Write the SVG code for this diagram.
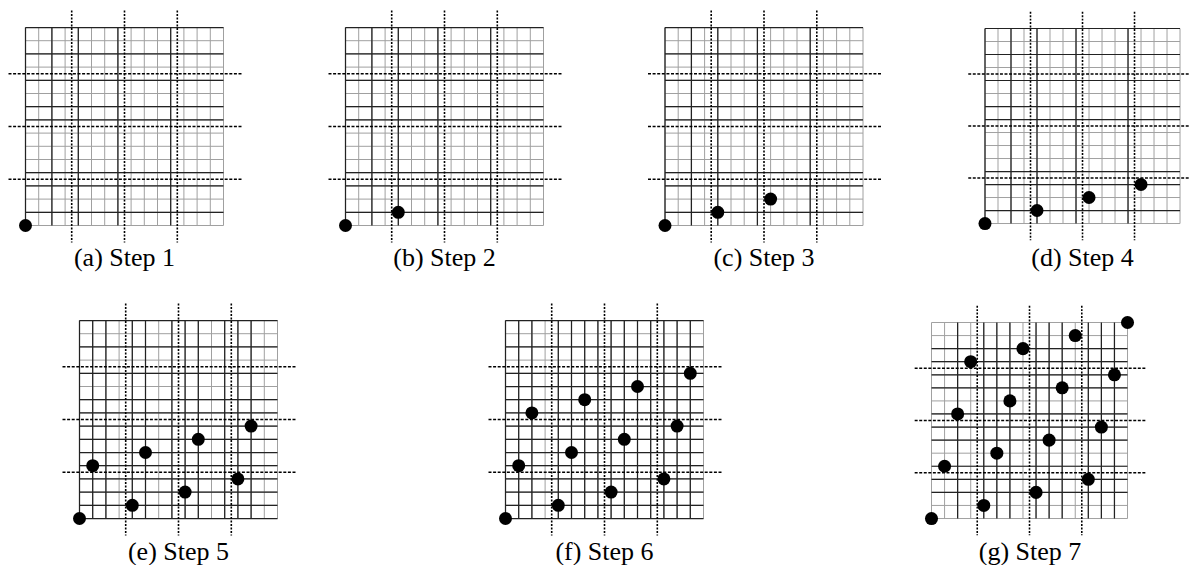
<svg xmlns="http://www.w3.org/2000/svg" xmlns:xlink="http://www.w3.org/1999/xlink" width="1190" height="565" viewBox="0 0 1190 565">
<style>
.lt{fill:none;stroke:#a0a0a0;stroke-width:1}
.dk{fill:none;stroke:#222;stroke-width:1.25}
.dv{fill:none;stroke:#000;stroke-width:1.6;stroke-dasharray:2 1.5}
.dh{fill:none;stroke:#000;stroke-width:1.5;stroke-dasharray:3 1.6}
.dot{fill:#000}
text{font-family:'Liberation Serif','Times New Roman','DejaVu Serif',serif;font-size:26px;fill:#000;text-anchor:middle}
</style>
<defs>
<path id="grid" class="lt" d="M0 0V198 M13.2 0V198 M26.4 0V198 M39.6 0V198 M52.8 0V198 M66 0V198 M79.2 0V198 M92.4 0V198 M105.6 0V198 M118.8 0V198 M132 0V198 M145.2 0V198 M158.4 0V198 M171.6 0V198 M184.8 0V198 M198 0V198 M0 0H198 M0 13.2H198 M0 26.4H198 M0 39.6H198 M0 52.8H198 M0 66H198 M0 79.2H198 M0 92.4H198 M0 105.6H198 M0 118.8H198 M0 132H198 M0 145.2H198 M0 158.4H198 M0 171.6H198 M0 184.8H198 M0 198H198"/>
<path id="dkbase" class="dk" d="M0 0V198 M26.4 0V198 M52.8 0V198 M92.4 0V198 M145.2 0V198 M0 184.8H198 M0 158.4H198 M0 145.2H198 M0 92.4H198 M0 79.2H198 M0 52.8H198 M0 26.4H198 M0 0H198"/>
<g id="dash">
<path class="dv" d="M46.2 -17V215 M99 -17V215 M151.8 -17V215"/>
<path class="dh" d="M-17 151.8H216 M-17 99H216 M-17 46.2H216"/>
</g>
</defs>
<rect width="1190" height="565" fill="#fff"/>

<g id="panel-a">
<g transform="translate(25.5,27.5)">
<use xlink:href="#grid" href="#grid"/>
<use xlink:href="#dkbase" href="#dkbase"/>
<use xlink:href="#dash" href="#dash"/>
<circle class="dot" cx="0" cy="198" r="6.5"/>
</g>
<text x="124.5" y="266" font-family="Liberation Serif, Times New Roman, serif" font-size="26">(a) Step 1</text>
</g>

<g id="panel-b">
<g transform="translate(345.5,27.5)">
<use xlink:href="#grid" href="#grid"/>
<use xlink:href="#dkbase" href="#dkbase"/>
<use xlink:href="#dash" href="#dash"/>
<circle class="dot" cx="0" cy="198" r="6.5"/>
<circle class="dot" cx="52.8" cy="184.8" r="6.5"/>
</g>
<text x="444.5" y="266" font-family="Liberation Serif, Times New Roman, serif" font-size="26">(b) Step 2</text>
</g>

<g id="panel-c">
<g transform="translate(665,27.5)">
<use xlink:href="#grid" href="#grid"/>
<use xlink:href="#dkbase" href="#dkbase"/>
<use xlink:href="#dash" href="#dash"/>
<circle class="dot" cx="0" cy="198" r="6.5"/>
<circle class="dot" cx="52.8" cy="184.8" r="6.5"/>
<circle class="dot" cx="105.6" cy="171.6" r="6.5"/>
</g>
<text x="764" y="266" font-family="Liberation Serif, Times New Roman, serif" font-size="26">(c) Step 3</text>
</g>

<g id="panel-d">
<g transform="translate(985,28.5) scale(0.985)">
<use xlink:href="#grid" href="#grid"/>
<use xlink:href="#dkbase" href="#dkbase"/>
<use xlink:href="#dash" href="#dash"/>
<circle class="dot" cx="0" cy="198" r="6.6"/>
<circle class="dot" cx="52.8" cy="184.8" r="6.6"/>
<circle class="dot" cx="105.6" cy="171.6" r="6.6"/>
<circle class="dot" cx="158.4" cy="158.4" r="6.6"/>
</g>
<text x="1082.5" y="266" font-family="Liberation Serif, Times New Roman, serif" font-size="26">(d) Step 4</text>
</g>

<g id="panel-e">
<g transform="translate(79.5,320.5)">
<use xlink:href="#grid" href="#grid"/>
<path class="dk" d="M0 0V198 M13.2 0V198 M26.4 0V198 M52.8 0V198 M66 0V198 M92.4 0V198 M105.6 0V198 M118.8 0V198 M145.2 0V198 M158.4 0V198 M171.6 0V198 M0 198H198 M0 184.8H198 M0 171.6H198 M0 158.4H198 M0 145.2H198 M0 132H198 M0 118.8H198 M0 105.6H198 M0 92.4H198 M0 79.2H198 M0 52.8H198 M0 26.4H198 M0 0H198"/>
<use xlink:href="#dash" href="#dash"/>
<circle class="dot" cx="0" cy="198" r="6.5"/>
<circle class="dot" cx="13.2" cy="145.2" r="6.5"/>
<circle class="dot" cx="52.8" cy="184.8" r="6.5"/>
<circle class="dot" cx="66" cy="132" r="6.5"/>
<circle class="dot" cx="105.6" cy="171.6" r="6.5"/>
<circle class="dot" cx="118.8" cy="118.8" r="6.5"/>
<circle class="dot" cx="158.4" cy="158.4" r="6.5"/>
<circle class="dot" cx="171.6" cy="105.6" r="6.5"/>
</g>
<text x="178.5" y="560" font-family="Liberation Serif, Times New Roman, serif" font-size="26">(e) Step 5</text>
</g>

<g id="panel-f">
<g transform="translate(505.5,320.5)">
<use xlink:href="#grid" href="#grid"/>
<path class="dk" d="M0 0V198 M13.2 0V198 M26.4 0V198 M52.8 0V198 M66 0V198 M79.2 0V198 M92.4 0V198 M105.6 0V198 M118.8 0V198 M132 0V198 M145.2 0V198 M158.4 0V198 M171.6 0V198 M184.8 0V198 M0 198H198 M0 184.8H198 M0 171.6H198 M0 158.4H198 M0 145.2H198 M0 132H198 M0 118.8H198 M0 105.6H198 M0 92.4H198 M0 79.2H198 M0 66H198 M0 52.8H198 M0 26.4H198 M0 0H198"/>
<use xlink:href="#dash" href="#dash"/>
<circle class="dot" cx="0" cy="198" r="6.5"/>
<circle class="dot" cx="13.2" cy="145.2" r="6.5"/>
<circle class="dot" cx="26.4" cy="92.4" r="6.5"/>
<circle class="dot" cx="52.8" cy="184.8" r="6.5"/>
<circle class="dot" cx="66" cy="132" r="6.5"/>
<circle class="dot" cx="79.2" cy="79.2" r="6.5"/>
<circle class="dot" cx="105.6" cy="171.6" r="6.5"/>
<circle class="dot" cx="118.8" cy="118.8" r="6.5"/>
<circle class="dot" cx="132" cy="66" r="6.5"/>
<circle class="dot" cx="158.4" cy="158.4" r="6.5"/>
<circle class="dot" cx="171.6" cy="105.6" r="6.5"/>
<circle class="dot" cx="184.8" cy="52.8" r="6.5"/>
</g>
<text x="604.5" y="560" font-family="Liberation Serif, Times New Roman, serif" font-size="26">(f) Step 6</text>
</g>

<g id="panel-g">
<g transform="translate(931.5,322.5) scale(0.99)">
<use xlink:href="#grid" href="#grid"/>
<path class="dk" d="M26.4 0V198 M52.8 0V198 M66 0V198 M79.2 0V198 M105.6 0V198 M118.8 0V198 M132 0V198 M158.4 0V198 M171.6 0V198 M184.8 0V198 M0 171.6H198 M0 158.4H198 M0 145.2H198 M0 118.8H198 M0 105.6H198 M0 92.4H198 M0 66H198 M0 52.8H198 M0 39.6H198 M0 26.4H198"/>
<use xlink:href="#dash" href="#dash"/>
<circle class="dot" cx="0" cy="198" r="6.6"/>
<circle class="dot" cx="13.2" cy="145.2" r="6.6"/>
<circle class="dot" cx="26.4" cy="92.4" r="6.6"/>
<circle class="dot" cx="39.6" cy="39.6" r="6.6"/>
<circle class="dot" cx="52.8" cy="184.8" r="6.6"/>
<circle class="dot" cx="66" cy="132" r="6.6"/>
<circle class="dot" cx="79.2" cy="79.2" r="6.6"/>
<circle class="dot" cx="92.4" cy="26.4" r="6.6"/>
<circle class="dot" cx="105.6" cy="171.6" r="6.6"/>
<circle class="dot" cx="118.8" cy="118.8" r="6.6"/>
<circle class="dot" cx="132" cy="66" r="6.6"/>
<circle class="dot" cx="145.2" cy="13.2" r="6.6"/>
<circle class="dot" cx="158.4" cy="158.4" r="6.6"/>
<circle class="dot" cx="171.6" cy="105.6" r="6.6"/>
<circle class="dot" cx="184.8" cy="52.8" r="6.6"/>
<circle class="dot" cx="198" cy="0" r="6.6"/>
</g>
<text x="1030" y="560" font-family="Liberation Serif, Times New Roman, serif" font-size="26">(g) Step 7</text>
</g>
</svg>
